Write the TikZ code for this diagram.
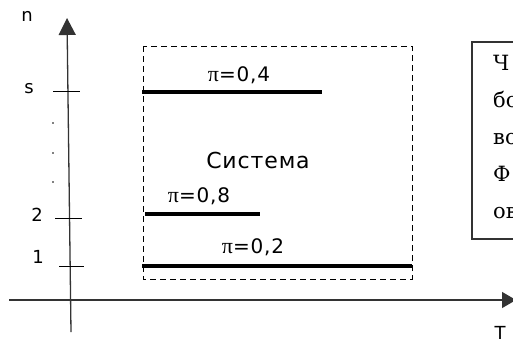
\documentclass[tikz,border=0pt]{standalone}
\usepackage{fontspec}
\setmainfont{DejaVu Sans}
\newfontfamily\labfont{DejaVu Sans}[LetterSpace=4]
\newfontfamily\pifont{Liberation Serif}
\newfontfamily\boxfont{DejaVu Serif}
\usetikzlibrary{arrows.meta}
\tikzset{
  axisline/.style={line width=1.3pt, draw=black!80},
  tickline/.style={line width=1pt},
  barline/.style={line width=4pt},
  axislab/.style={font=\fontsize{18}{18}\selectfont, inner sep=0pt},
  pilab/.style={font=\fontsize{20}{20}\labfont, inner sep=0pt},
  syslab/.style={font=\fontsize{22}{22}\labfont, inner sep=0pt},
  boxtext/.style={font=\fontsize{21}{21}\boxfont, anchor=base west, inner sep=0pt},
  dotmark/.style={circle, fill=black, inner sep=0pt, minimum size=1.6pt},
}
\newcommand{\pisym}{{\fontsize{22}{22}\pifont π}}
\begin{document}
\begin{tikzpicture}[x=1pt,y=-1pt]
\useasboundingbox[fill=white] (0,0) rectangle (513,343);
% axes
\coordinate (vb) at (71,332);
\coordinate (vt) at (67,18);
\coordinate (hl) at (9,300);
\coordinate (hr) at (516,300);
\draw[axisline,-{Triangle[length=17pt,width=17pt]}] (vb) -- (vt);
\draw[axisline,-{Triangle[length=14pt,width=16pt]}] (hl) -- (hr);
% ticks
\coordinate (ts1) at (53,91); \coordinate (ts2) at (80,91);
\coordinate (t21) at (55,218); \coordinate (t22) at (82,218);
\coordinate (t11) at (59,266); \coordinate (t12) at (84,266);
\draw[tickline] (ts1) -- (ts2);
\draw[tickline] (t21) -- (t22);
\draw[tickline] (t11) -- (t12);
% axis labels
\node[axislab] (ln) at (27,16) {n};
\node[axislab] (ls) at (29,89) {s};
\node[axislab] (l2) at (37,215) {2};
\node[axislab] (l1) at (38,257) {1};
\node[axislab, anchor=north] (lT) at (500,326) {T};
\node[dotmark] (d1) at (53,123) {};
\node[dotmark] (d2) at (53,153) {};
\node[dotmark] (d3) at (53,182) {};
% system box
\coordinate (bx1) at (143,46);
\coordinate (bx2) at (412,279);
\draw[line width=1pt, dash pattern=on 6pt off 4pt] (bx1) rectangle (bx2);
% bars
\coordinate (a1) at (142,92); \coordinate (a2) at (322,92);
\coordinate (b1) at (145,214); \coordinate (b2) at (260,214);
\coordinate (c1) at (142,266); \coordinate (c2) at (412,266);
\draw[barline] (a1) -- (a2);
\draw[barline] (b1) -- (b2);
\draw[barline] (c1) -- (c2);
\node[pilab] (p4) at (239,75) {\pisym=0,4};
\node[pilab] (p8) at (199,196) {\pisym=0,8};
\node[pilab] (p2) at (253,247) {\pisym=0,2};
\node[syslab] (sys) at (258,160) {Система};
% right text box
\coordinate (rb1) at (472,42);
\coordinate (rb2) at (540,239);
\draw[line width=1.2pt, draw=black!80] (rb1) rectangle (rb2);
\node[boxtext] (r1) at (493,70) {Ч};
\node[boxtext] (r2) at (493,107) {бо};
\node[boxtext] (r3) at (493,144) {во};
\node[boxtext] (r4) at (493,181) {Ф};
\node[boxtext] (r5) at (493,218) {ов};
\end{tikzpicture}
\end{document}
